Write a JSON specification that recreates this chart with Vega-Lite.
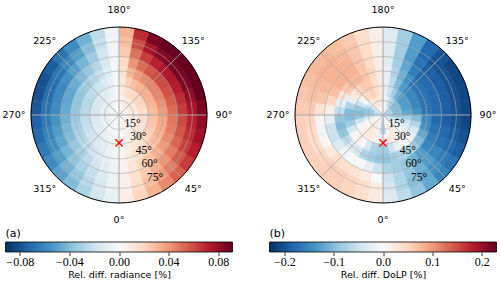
{
"$schema": "https://vega.github.io/schema/vega-lite/v6.json",
"background": "white",
"padding": {"left": 2.5, "top": 4, "right": 0, "bottom": 0},
"bounds": "flush",
"columns": 2,
"spacing": {"row": 37, "column": 37},
"config": {"view": {"stroke": null}, "font": "DejaVu Sans"},
"resolve": {"scale": {"color": "independent", "stroke": "independent", "theta": "independent", "radius": "independent", "x": "independent"}},
"datasets": {
"rad": [
{"a":5,"z":5,"v":0.0002},{"a":15,"z":5,"v":0.0005},{"a":25,"z":5,"v":0.0008},{"a":35,"z":5,"v":0.0011},{"a":45,"z":5,"v":0.0014},{"a":55,"z":5,"v":0.0016},{"a":65,"z":5,"v":0.0018},{"a":75,"z":5,"v":0.0019},{"a":85,"z":5,"v":0.002},{"a":95,"z":5,"v":0.0022},{"a":105,"z":5,"v":0.0023},{"a":115,"z":5,"v":0.0024},{"a":125,"z":5,"v":0.0025},{"a":135,"z":5,"v":0.0025},{"a":145,"z":5,"v":0.0024},{"a":155,"z":5,"v":0.0022},{"a":165,"z":5,"v":0.0017},{"a":175,"z":5,"v":0.0008},{"a":185,"z":5,"v":-0.0001},{"a":195,"z":5,"v":-0.0006},{"a":205,"z":5,"v":-0.0011},{"a":215,"z":5,"v":-0.0014},{"a":225,"z":5,"v":-0.0017},{"a":235,"z":5,"v":-0.0019},{"a":245,"z":5,"v":-0.002},{"a":255,"z":5,"v":-0.002},{"a":265,"z":5,"v":-0.0019},{"a":275,"z":5,"v":-0.0019},{"a":285,"z":5,"v":-0.0018},{"a":295,"z":5,"v":-0.0016},{"a":305,"z":5,"v":-0.0015},{"a":315,"z":5,"v":-0.0012},{"a":325,"z":5,"v":-0.001},{"a":335,"z":5,"v":-0.0007},{"a":345,"z":5,"v":-0.0004},{"a":355,"z":5,"v":-0.0002},
{"a":5,"z":15,"v":0.0006},{"a":15,"z":15,"v":0.002},{"a":25,"z":15,"v":0.0032},{"a":35,"z":15,"v":0.0044},{"a":45,"z":15,"v":0.0054},{"a":55,"z":15,"v":0.0064},{"a":65,"z":15,"v":0.0072},{"a":75,"z":15,"v":0.0078},{"a":85,"z":15,"v":0.0082},{"a":95,"z":15,"v":0.0086},{"a":105,"z":15,"v":0.0092},{"a":115,"z":15,"v":0.0098},{"a":125,"z":15,"v":0.01},{"a":135,"z":15,"v":0.01},{"a":145,"z":15,"v":0.0096},{"a":155,"z":15,"v":0.0086},{"a":165,"z":15,"v":0.0068},{"a":175,"z":15,"v":0.0032},{"a":185,"z":15,"v":-0.0004},{"a":195,"z":15,"v":-0.0024},{"a":205,"z":15,"v":-0.0044},{"a":215,"z":15,"v":-0.0058},{"a":225,"z":15,"v":-0.0068},{"a":235,"z":15,"v":-0.0076},{"a":245,"z":15,"v":-0.008},{"a":255,"z":15,"v":-0.008},{"a":265,"z":15,"v":-0.0078},{"a":275,"z":15,"v":-0.0074},{"a":285,"z":15,"v":-0.007},{"a":295,"z":15,"v":-0.0066},{"a":305,"z":15,"v":-0.0058},{"a":315,"z":15,"v":-0.005},{"a":325,"z":15,"v":-0.004},{"a":335,"z":15,"v":-0.0029},{"a":345,"z":15,"v":-0.0018},{"a":355,"z":15,"v":-0.0006},
{"a":5,"z":25,"v":0.0013},{"a":15,"z":25,"v":0.004},{"a":25,"z":25,"v":0.0064},{"a":35,"z":25,"v":0.0088},{"a":45,"z":25,"v":0.0109},{"a":55,"z":25,"v":0.0128},{"a":65,"z":25,"v":0.0144},{"a":75,"z":25,"v":0.0155},{"a":85,"z":25,"v":0.0163},{"a":95,"z":25,"v":0.0173},{"a":105,"z":25,"v":0.0184},{"a":115,"z":25,"v":0.0195},{"a":125,"z":25,"v":0.02},{"a":135,"z":25,"v":0.02},{"a":145,"z":25,"v":0.0192},{"a":155,"z":25,"v":0.0173},{"a":165,"z":25,"v":0.0136},{"a":175,"z":25,"v":0.0064},{"a":185,"z":25,"v":-0.0008},{"a":195,"z":25,"v":-0.0048},{"a":205,"z":25,"v":-0.0088},{"a":215,"z":25,"v":-0.0115},{"a":225,"z":25,"v":-0.0136},{"a":235,"z":25,"v":-0.0152},{"a":245,"z":25,"v":-0.016},{"a":255,"z":25,"v":-0.016},{"a":265,"z":25,"v":-0.0155},{"a":275,"z":25,"v":-0.0149},{"a":285,"z":25,"v":-0.0141},{"a":295,"z":25,"v":-0.0131},{"a":305,"z":25,"v":-0.0117},{"a":315,"z":25,"v":-0.0099},{"a":325,"z":25,"v":-0.008},{"a":335,"z":25,"v":-0.0058},{"a":345,"z":25,"v":-0.0035},{"a":355,"z":25,"v":-0.0013},
{"a":5,"z":35,"v":0.0021},{"a":15,"z":35,"v":0.0065},{"a":25,"z":35,"v":0.0104},{"a":35,"z":35,"v":0.0143},{"a":45,"z":35,"v":0.0177},{"a":55,"z":35,"v":0.0208},{"a":65,"z":35,"v":0.0234},{"a":75,"z":35,"v":0.0252},{"a":85,"z":35,"v":0.0265},{"a":95,"z":35,"v":0.0281},{"a":105,"z":35,"v":0.0299},{"a":115,"z":35,"v":0.0317},{"a":125,"z":35,"v":0.0325},{"a":135,"z":35,"v":0.0325},{"a":145,"z":35,"v":0.0312},{"a":155,"z":35,"v":0.0281},{"a":165,"z":35,"v":0.0221},{"a":175,"z":35,"v":0.0104},{"a":185,"z":35,"v":-0.0013},{"a":195,"z":35,"v":-0.0078},{"a":205,"z":35,"v":-0.0143},{"a":215,"z":35,"v":-0.0187},{"a":225,"z":35,"v":-0.0221},{"a":235,"z":35,"v":-0.0247},{"a":245,"z":35,"v":-0.026},{"a":255,"z":35,"v":-0.026},{"a":265,"z":35,"v":-0.0252},{"a":275,"z":35,"v":-0.0242},{"a":285,"z":35,"v":-0.0229},{"a":295,"z":35,"v":-0.0213},{"a":305,"z":35,"v":-0.019},{"a":315,"z":35,"v":-0.0161},{"a":325,"z":35,"v":-0.013},{"a":335,"z":35,"v":-0.0094},{"a":345,"z":35,"v":-0.0057},{"a":355,"z":35,"v":-0.0021},
{"a":5,"z":45,"v":0.0029},{"a":15,"z":45,"v":0.009},{"a":25,"z":45,"v":0.0144},{"a":35,"z":45,"v":0.0198},{"a":45,"z":45,"v":0.0245},{"a":55,"z":45,"v":0.0288},{"a":65,"z":45,"v":0.0324},{"a":75,"z":45,"v":0.0349},{"a":85,"z":45,"v":0.0367},{"a":95,"z":45,"v":0.0389},{"a":105,"z":45,"v":0.0414},{"a":115,"z":45,"v":0.0439},{"a":125,"z":45,"v":0.045},{"a":135,"z":45,"v":0.045},{"a":145,"z":45,"v":0.0432},{"a":155,"z":45,"v":0.0389},{"a":165,"z":45,"v":0.0306},{"a":175,"z":45,"v":0.0144},{"a":185,"z":45,"v":-0.0018},{"a":195,"z":45,"v":-0.0108},{"a":205,"z":45,"v":-0.0198},{"a":215,"z":45,"v":-0.0259},{"a":225,"z":45,"v":-0.0306},{"a":235,"z":45,"v":-0.0342},{"a":245,"z":45,"v":-0.036},{"a":255,"z":45,"v":-0.036},{"a":265,"z":45,"v":-0.0349},{"a":275,"z":45,"v":-0.0335},{"a":285,"z":45,"v":-0.0317},{"a":295,"z":45,"v":-0.0295},{"a":305,"z":45,"v":-0.0263},{"a":315,"z":45,"v":-0.0223},{"a":325,"z":45,"v":-0.018},{"a":335,"z":45,"v":-0.013},{"a":345,"z":45,"v":-0.0079},{"a":355,"z":45,"v":-0.0029},
{"a":5,"z":55,"v":0.0038},{"a":15,"z":55,"v":0.012},{"a":25,"z":55,"v":0.0192},{"a":35,"z":55,"v":0.0264},{"a":45,"z":55,"v":0.0326},{"a":55,"z":55,"v":0.0384},{"a":65,"z":55,"v":0.0432},{"a":75,"z":55,"v":0.0466},{"a":85,"z":55,"v":0.049},{"a":95,"z":55,"v":0.0518},{"a":105,"z":55,"v":0.0552},{"a":115,"z":55,"v":0.0586},{"a":125,"z":55,"v":0.06},{"a":135,"z":55,"v":0.06},{"a":145,"z":55,"v":0.0576},{"a":155,"z":55,"v":0.0518},{"a":165,"z":55,"v":0.0408},{"a":175,"z":55,"v":0.0192},{"a":185,"z":55,"v":-0.0024},{"a":195,"z":55,"v":-0.0144},{"a":205,"z":55,"v":-0.0264},{"a":215,"z":55,"v":-0.0346},{"a":225,"z":55,"v":-0.0408},{"a":235,"z":55,"v":-0.0456},{"a":245,"z":55,"v":-0.048},{"a":255,"z":55,"v":-0.048},{"a":265,"z":55,"v":-0.0466},{"a":275,"z":55,"v":-0.0446},{"a":285,"z":55,"v":-0.0422},{"a":295,"z":55,"v":-0.0394},{"a":305,"z":55,"v":-0.035},{"a":315,"z":55,"v":-0.0298},{"a":325,"z":55,"v":-0.024},{"a":335,"z":55,"v":-0.0173},{"a":345,"z":55,"v":-0.0106},{"a":355,"z":55,"v":-0.0038},
{"a":5,"z":65,"v":0.0047},{"a":15,"z":65,"v":0.0148},{"a":25,"z":65,"v":0.0236},{"a":35,"z":65,"v":0.0325},{"a":45,"z":65,"v":0.0401},{"a":55,"z":65,"v":0.0472},{"a":65,"z":65,"v":0.0531},{"a":75,"z":65,"v":0.0572},{"a":85,"z":65,"v":0.0602},{"a":95,"z":65,"v":0.0637},{"a":105,"z":65,"v":0.0679},{"a":115,"z":65,"v":0.072},{"a":125,"z":65,"v":0.0738},{"a":135,"z":65,"v":0.0738},{"a":145,"z":65,"v":0.0708},{"a":155,"z":65,"v":0.0637},{"a":165,"z":65,"v":0.0502},{"a":175,"z":65,"v":0.0236},{"a":185,"z":65,"v":-0.003},{"a":195,"z":65,"v":-0.0177},{"a":205,"z":65,"v":-0.0325},{"a":215,"z":65,"v":-0.0425},{"a":225,"z":65,"v":-0.0502},{"a":235,"z":65,"v":-0.0561},{"a":245,"z":65,"v":-0.059},{"a":255,"z":65,"v":-0.059},{"a":265,"z":65,"v":-0.0572},{"a":275,"z":65,"v":-0.0549},{"a":285,"z":65,"v":-0.0519},{"a":295,"z":65,"v":-0.0484},{"a":305,"z":65,"v":-0.0431},{"a":315,"z":65,"v":-0.0366},{"a":325,"z":65,"v":-0.0295},{"a":335,"z":65,"v":-0.0212},{"a":345,"z":65,"v":-0.013},{"a":355,"z":65,"v":-0.0047},
{"a":5,"z":75,"v":0.0056},{"a":15,"z":75,"v":0.0175},{"a":25,"z":75,"v":0.028},{"a":35,"z":75,"v":0.0385},{"a":45,"z":75,"v":0.0476},{"a":55,"z":75,"v":0.056},{"a":65,"z":75,"v":0.063},{"a":75,"z":75,"v":0.0679},{"a":85,"z":75,"v":0.0714},{"a":95,"z":75,"v":0.0756},{"a":105,"z":75,"v":0.0805},{"a":115,"z":75,"v":0.0854},{"a":125,"z":75,"v":0.0875},{"a":135,"z":75,"v":0.0875},{"a":145,"z":75,"v":0.084},{"a":155,"z":75,"v":0.0756},{"a":165,"z":75,"v":0.0595},{"a":175,"z":75,"v":0.028},{"a":185,"z":75,"v":-0.0035},{"a":195,"z":75,"v":-0.021},{"a":205,"z":75,"v":-0.0385},{"a":215,"z":75,"v":-0.0504},{"a":225,"z":75,"v":-0.0595},{"a":235,"z":75,"v":-0.0665},{"a":245,"z":75,"v":-0.07},{"a":255,"z":75,"v":-0.07},{"a":265,"z":75,"v":-0.0679},{"a":275,"z":75,"v":-0.0651},{"a":285,"z":75,"v":-0.0616},{"a":295,"z":75,"v":-0.0574},{"a":305,"z":75,"v":-0.0511},{"a":315,"z":75,"v":-0.0434},{"a":325,"z":75,"v":-0.035},{"a":335,"z":75,"v":-0.0252},{"a":345,"z":75,"v":-0.0154},{"a":355,"z":75,"v":-0.0056},
{"a":5,"z":85,"v":0.0064},{"a":15,"z":85,"v":0.02},{"a":25,"z":85,"v":0.032},{"a":35,"z":85,"v":0.044},{"a":45,"z":85,"v":0.0544},{"a":55,"z":85,"v":0.064},{"a":65,"z":85,"v":0.072},{"a":75,"z":85,"v":0.0776},{"a":85,"z":85,"v":0.0816},{"a":95,"z":85,"v":0.0864},{"a":105,"z":85,"v":0.092},{"a":115,"z":85,"v":0.0976},{"a":125,"z":85,"v":0.1},{"a":135,"z":85,"v":0.1},{"a":145,"z":85,"v":0.096},{"a":155,"z":85,"v":0.0864},{"a":165,"z":85,"v":0.068},{"a":175,"z":85,"v":0.032},{"a":185,"z":85,"v":-0.004},{"a":195,"z":85,"v":-0.024},{"a":205,"z":85,"v":-0.044},{"a":215,"z":85,"v":-0.0576},{"a":225,"z":85,"v":-0.068},{"a":235,"z":85,"v":-0.076},{"a":245,"z":85,"v":-0.08},{"a":255,"z":85,"v":-0.08},{"a":265,"z":85,"v":-0.0776},{"a":275,"z":85,"v":-0.0744},{"a":285,"z":85,"v":-0.0704},{"a":295,"z":85,"v":-0.0656},{"a":305,"z":85,"v":-0.0584},{"a":315,"z":85,"v":-0.0496},{"a":325,"z":85,"v":-0.04},{"a":335,"z":85,"v":-0.0288},{"a":345,"z":85,"v":-0.0176},{"a":355,"z":85,"v":-0.0064}
],
"dolp": [
{"a":5,"z":5,"v":-0.06},{"a":15,"z":5,"v":-0.02},{"a":25,"z":5,"v":0},{"a":35,"z":5,"v":-0.01},{"a":45,"z":5,"v":-0.02},{"a":55,"z":5,"v":-0.03},{"a":65,"z":5,"v":-0.05},{"a":75,"z":5,"v":-0.06},{"a":85,"z":5,"v":-0.07},{"a":95,"z":5,"v":-0.07},{"a":105,"z":5,"v":-0.07},{"a":115,"z":5,"v":-0.07},{"a":125,"z":5,"v":-0.07},{"a":135,"z":5,"v":-0.07},{"a":145,"z":5,"v":-0.05},{"a":155,"z":5,"v":-0.03},{"a":165,"z":5,"v":-0.015},{"a":175,"z":5,"v":0},{"a":185,"z":5,"v":0.01},{"a":195,"z":5,"v":0.015},{"a":205,"z":5,"v":0.01},{"a":215,"z":5,"v":0},{"a":225,"z":5,"v":-0.01},{"a":235,"z":5,"v":-0.03},{"a":245,"z":5,"v":-0.05},{"a":255,"z":5,"v":-0.06},{"a":265,"z":5,"v":-0.06},{"a":275,"z":5,"v":-0.05},{"a":285,"z":5,"v":-0.03},{"a":295,"z":5,"v":-0.01},{"a":305,"z":5,"v":0},{"a":315,"z":5,"v":0.01},{"a":325,"z":5,"v":0.01},{"a":335,"z":5,"v":0.01},{"a":345,"z":5,"v":-0.02},{"a":355,"z":5,"v":-0.06},
{"a":5,"z":15,"v":-0.07},{"a":15,"z":15,"v":0},{"a":25,"z":15,"v":0.02},{"a":35,"z":15,"v":0.01},{"a":45,"z":15,"v":0},{"a":55,"z":15,"v":-0.01},{"a":65,"z":15,"v":-0.03},{"a":75,"z":15,"v":-0.05},{"a":85,"z":15,"v":-0.08},{"a":95,"z":15,"v":-0.1},{"a":105,"z":15,"v":-0.1},{"a":115,"z":15,"v":-0.1},{"a":125,"z":15,"v":-0.1},{"a":135,"z":15,"v":-0.1},{"a":145,"z":15,"v":-0.08},{"a":155,"z":15,"v":-0.06},{"a":165,"z":15,"v":-0.03},{"a":175,"z":15,"v":-0.01},{"a":185,"z":15,"v":0.02},{"a":195,"z":15,"v":0.03},{"a":205,"z":15,"v":0.035},{"a":215,"z":15,"v":0.025},{"a":225,"z":15,"v":0},{"a":235,"z":15,"v":-0.04},{"a":245,"z":15,"v":-0.07},{"a":255,"z":15,"v":-0.09},{"a":265,"z":15,"v":-0.09},{"a":275,"z":15,"v":-0.06},{"a":285,"z":15,"v":-0.03},{"a":295,"z":15,"v":0},{"a":305,"z":15,"v":0.01},{"a":315,"z":15,"v":0.02},{"a":325,"z":15,"v":0.02},{"a":335,"z":15,"v":0.02},{"a":345,"z":15,"v":0.01},{"a":355,"z":15,"v":-0.06},
{"a":5,"z":25,"v":0.01},{"a":15,"z":25,"v":0.02},{"a":25,"z":25,"v":0.02},{"a":35,"z":25,"v":0.01},{"a":45,"z":25,"v":0},{"a":55,"z":25,"v":-0.01},{"a":65,"z":25,"v":-0.03},{"a":75,"z":25,"v":-0.05},{"a":85,"z":25,"v":-0.08},{"a":95,"z":25,"v":-0.12},{"a":105,"z":25,"v":-0.13},{"a":115,"z":25,"v":-0.13},{"a":125,"z":25,"v":-0.13},{"a":135,"z":25,"v":-0.13},{"a":145,"z":25,"v":-0.11},{"a":155,"z":25,"v":-0.08},{"a":165,"z":25,"v":-0.05},{"a":175,"z":25,"v":-0.02},{"a":185,"z":25,"v":0.02},{"a":195,"z":25,"v":0.04},{"a":205,"z":25,"v":0.055},{"a":215,"z":25,"v":0.05},{"a":225,"z":25,"v":0.035},{"a":235,"z":25,"v":0},{"a":245,"z":25,"v":-0.05},{"a":255,"z":25,"v":-0.09},{"a":265,"z":25,"v":-0.1},{"a":275,"z":25,"v":-0.09},{"a":285,"z":25,"v":-0.05},{"a":295,"z":25,"v":-0.01},{"a":305,"z":25,"v":0.01},{"a":315,"z":25,"v":0.02},{"a":325,"z":25,"v":0.02},{"a":335,"z":25,"v":0.02},{"a":345,"z":25,"v":0.01},{"a":355,"z":25,"v":0.01},
{"a":5,"z":35,"v":-0.08},{"a":15,"z":35,"v":-0.05},{"a":25,"z":35,"v":-0.02},{"a":35,"z":35,"v":0},{"a":45,"z":35,"v":0},{"a":55,"z":35,"v":-0.02},{"a":65,"z":35,"v":-0.04},{"a":75,"z":35,"v":-0.07},{"a":85,"z":35,"v":-0.1},{"a":95,"z":35,"v":-0.14},{"a":105,"z":35,"v":-0.15},{"a":115,"z":35,"v":-0.15},{"a":125,"z":35,"v":-0.15},{"a":135,"z":35,"v":-0.15},{"a":145,"z":35,"v":-0.13},{"a":155,"z":35,"v":-0.1},{"a":165,"z":35,"v":-0.06},{"a":175,"z":35,"v":-0.02},{"a":185,"z":35,"v":0.02},{"a":195,"z":35,"v":0.045},{"a":205,"z":35,"v":0.06},{"a":215,"z":35,"v":0.06},{"a":225,"z":35,"v":0.05},{"a":235,"z":35,"v":0.025},{"a":245,"z":35,"v":-0.02},{"a":255,"z":35,"v":-0.07},{"a":265,"z":35,"v":-0.1},{"a":275,"z":35,"v":-0.1},{"a":285,"z":35,"v":-0.08},{"a":295,"z":35,"v":-0.04},{"a":305,"z":35,"v":0},{"a":315,"z":35,"v":0.01},{"a":325,"z":35,"v":0},{"a":335,"z":35,"v":-0.04},{"a":345,"z":35,"v":-0.07},{"a":355,"z":35,"v":-0.08},
{"a":5,"z":45,"v":-0.09},{"a":15,"z":45,"v":-0.08},{"a":25,"z":45,"v":-0.07},{"a":35,"z":45,"v":-0.07},{"a":45,"z":45,"v":-0.08},{"a":55,"z":45,"v":-0.1},{"a":65,"z":45,"v":-0.12},{"a":75,"z":45,"v":-0.14},{"a":85,"z":45,"v":-0.15},{"a":95,"z":45,"v":-0.17},{"a":105,"z":45,"v":-0.17},{"a":115,"z":45,"v":-0.17},{"a":125,"z":45,"v":-0.17},{"a":135,"z":45,"v":-0.17},{"a":145,"z":45,"v":-0.14},{"a":155,"z":45,"v":-0.11},{"a":165,"z":45,"v":-0.07},{"a":175,"z":45,"v":-0.02},{"a":185,"z":45,"v":0.02},{"a":195,"z":45,"v":0.05},{"a":205,"z":45,"v":0.065},{"a":215,"z":45,"v":0.075},{"a":225,"z":45,"v":0.075},{"a":235,"z":45,"v":0.06},{"a":245,"z":45,"v":0.03},{"a":255,"z":45,"v":-0.02},{"a":265,"z":45,"v":-0.06},{"a":275,"z":45,"v":-0.09},{"a":285,"z":45,"v":-0.1},{"a":295,"z":45,"v":-0.09},{"a":305,"z":45,"v":-0.06},{"a":315,"z":45,"v":-0.03},{"a":325,"z":45,"v":-0.04},{"a":335,"z":45,"v":-0.07},{"a":345,"z":45,"v":-0.08},{"a":355,"z":45,"v":-0.09},
{"a":5,"z":55,"v":-0.07},{"a":15,"z":55,"v":-0.08},{"a":25,"z":55,"v":-0.09},{"a":35,"z":55,"v":-0.11},{"a":45,"z":55,"v":-0.13},{"a":55,"z":55,"v":-0.15},{"a":65,"z":55,"v":-0.16},{"a":75,"z":55,"v":-0.17},{"a":85,"z":55,"v":-0.18},{"a":95,"z":55,"v":-0.18},{"a":105,"z":55,"v":-0.18},{"a":115,"z":55,"v":-0.18},{"a":125,"z":55,"v":-0.18},{"a":135,"z":55,"v":-0.18},{"a":145,"z":55,"v":-0.16},{"a":155,"z":55,"v":-0.12},{"a":165,"z":55,"v":-0.08},{"a":175,"z":55,"v":-0.03},{"a":185,"z":55,"v":0.015},{"a":195,"z":55,"v":0.045},{"a":205,"z":55,"v":0.065},{"a":215,"z":55,"v":0.08},{"a":225,"z":55,"v":0.08},{"a":235,"z":55,"v":0.08},{"a":245,"z":55,"v":0.07},{"a":255,"z":55,"v":0.05},{"a":265,"z":55,"v":0.015},{"a":275,"z":55,"v":-0.02},{"a":285,"z":55,"v":-0.05},{"a":295,"z":55,"v":-0.05},{"a":305,"z":55,"v":-0.03},{"a":315,"z":55,"v":-0.01},{"a":325,"z":55,"v":0},{"a":335,"z":55,"v":0},{"a":345,"z":55,"v":-0.02},{"a":355,"z":55,"v":-0.05},
{"a":5,"z":65,"v":-0.05},{"a":15,"z":65,"v":-0.07},{"a":25,"z":65,"v":-0.09},{"a":35,"z":65,"v":-0.11},{"a":45,"z":65,"v":-0.13},{"a":55,"z":65,"v":-0.15},{"a":65,"z":65,"v":-0.17},{"a":75,"z":65,"v":-0.18},{"a":85,"z":65,"v":-0.19},{"a":95,"z":65,"v":-0.19},{"a":105,"z":65,"v":-0.19},{"a":115,"z":65,"v":-0.19},{"a":125,"z":65,"v":-0.19},{"a":135,"z":65,"v":-0.19},{"a":145,"z":65,"v":-0.17},{"a":155,"z":65,"v":-0.13},{"a":165,"z":65,"v":-0.08},{"a":175,"z":65,"v":-0.03},{"a":185,"z":65,"v":0.015},{"a":195,"z":65,"v":0.045},{"a":205,"z":65,"v":0.065},{"a":215,"z":65,"v":0.08},{"a":225,"z":65,"v":0.08},{"a":235,"z":65,"v":0.08},{"a":245,"z":65,"v":0.075},{"a":255,"z":65,"v":0.065},{"a":265,"z":65,"v":0.035},{"a":275,"z":65,"v":0.005},{"a":285,"z":65,"v":-0.01},{"a":295,"z":65,"v":0.005},{"a":305,"z":65,"v":0.025},{"a":315,"z":65,"v":0.04},{"a":325,"z":65,"v":0.04},{"a":335,"z":65,"v":0.035},{"a":345,"z":65,"v":0.02},{"a":355,"z":65,"v":0},
{"a":5,"z":75,"v":-0.04},{"a":15,"z":75,"v":-0.07},{"a":25,"z":75,"v":-0.1},{"a":35,"z":75,"v":-0.12},{"a":45,"z":75,"v":-0.14},{"a":55,"z":75,"v":-0.16},{"a":65,"z":75,"v":-0.18},{"a":75,"z":75,"v":-0.19},{"a":85,"z":75,"v":-0.2},{"a":95,"z":75,"v":-0.2},{"a":105,"z":75,"v":-0.2},{"a":115,"z":75,"v":-0.2},{"a":125,"z":75,"v":-0.2},{"a":135,"z":75,"v":-0.2},{"a":145,"z":75,"v":-0.18},{"a":155,"z":75,"v":-0.13},{"a":165,"z":75,"v":-0.08},{"a":175,"z":75,"v":-0.03},{"a":185,"z":75,"v":0.015},{"a":195,"z":75,"v":0.045},{"a":205,"z":75,"v":0.065},{"a":215,"z":75,"v":0.075},{"a":225,"z":75,"v":0.08},{"a":235,"z":75,"v":0.08},{"a":245,"z":75,"v":0.075},{"a":255,"z":75,"v":0.07},{"a":265,"z":75,"v":0.06},{"a":275,"z":75,"v":0.05},{"a":285,"z":75,"v":0.045},{"a":295,"z":75,"v":0.04},{"a":305,"z":75,"v":0.05},{"a":315,"z":75,"v":0.055},{"a":325,"z":75,"v":0.055},{"a":335,"z":75,"v":0.05},{"a":345,"z":75,"v":0.04},{"a":355,"z":75,"v":0.02},
{"a":5,"z":85,"v":-0.03},{"a":15,"z":85,"v":-0.06},{"a":25,"z":85,"v":-0.09},{"a":35,"z":85,"v":-0.12},{"a":45,"z":85,"v":-0.15},{"a":55,"z":85,"v":-0.17},{"a":65,"z":85,"v":-0.19},{"a":75,"z":85,"v":-0.2},{"a":85,"z":85,"v":-0.21},{"a":95,"z":85,"v":-0.21},{"a":105,"z":85,"v":-0.21},{"a":115,"z":85,"v":-0.21},{"a":125,"z":85,"v":-0.21},{"a":135,"z":85,"v":-0.2},{"a":145,"z":85,"v":-0.18},{"a":155,"z":85,"v":-0.13},{"a":165,"z":85,"v":-0.08},{"a":175,"z":85,"v":-0.03},{"a":185,"z":85,"v":0.015},{"a":195,"z":85,"v":0.04},{"a":205,"z":85,"v":0.06},{"a":215,"z":85,"v":0.07},{"a":225,"z":85,"v":0.075},{"a":235,"z":85,"v":0.075},{"a":245,"z":85,"v":0.07},{"a":255,"z":85,"v":0.065},{"a":265,"z":85,"v":0.06},{"a":275,"z":85,"v":0.055},{"a":285,"z":85,"v":0.055},{"a":295,"z":85,"v":0.055},{"a":305,"z":85,"v":0.055},{"a":315,"z":85,"v":0.055},{"a":325,"z":85,"v":0.055},{"a":335,"z":85,"v":0.05},{"a":345,"z":85,"v":0.04},{"a":355,"z":85,"v":0.02}
],
"rings": [{"r":15},{"r":30},{"r":45},{"r":60},{"r":75}],
"spokes": [{"g":0},{"g":45},{"g":90},{"g":135},{"g":180},{"g":225},{"g":270},{"g":315}],
"azlab": [{"g":0,"t":"0°"},{"g":45,"t":"45°"},{"g":90,"t":"90°"},{"g":135,"t":"135°"},{"g":180,"t":"180°"},{"g":225,"t":"225°"},{"g":270,"t":"270°"},{"g":315,"t":"315°"}],
"zlab": [{"r":15,"t":"15°"},{"r":30,"t":"30°"},{"r":45,"t":"45°"},{"r":60,"t":"60°"},{"r":75,"t":"75°"}],
"sun": [{"a":0,"z":30}]
},
"concat": [
{
"width": 227, "height": 180,
"layer": [
{
"data": {"name": "rad"},
"transform": [{"calculate": "datum.a-5", "as": "a0"}, {"calculate": "datum.a+5", "as": "a1"}, {"calculate": "datum.z-5", "as": "z0"}, {"calculate": "datum.z+5", "as": "z1"}],
"mark": {"type": "arc", "strokeWidth": 0.6},
"encoding": {
"theta": {"field": "a0", "type": "quantitative", "stack": null, "scale": {"domain": [0, 360], "range": [3.14159265, -3.14159265]}},
"theta2": {"field": "a1"},
"radius": {"field": "z1", "type": "quantitative", "stack": null, "scale": {"type": "linear", "domain": [0, 90], "range": [0, 88], "zero": true, "nice": false}},
"radius2": {"field": "z0"},
"color": {"field": "v", "type": "quantitative", "scale": {"type": "linear", "domain": [-0.0915, -0.0732, -0.0549, -0.0366, -0.0183, 0, 0.0183, 0.0366, 0.0549, 0.0732, 0.0915], "range": ["#053061", "#2166ac", "#4393c3", "#92c5de", "#d1e5f0", "#f7f7f7", "#fddbc7", "#f4a582", "#d6604d", "#b2182b", "#67001f"], "interpolate": "rgb", "clamp": true}, "legend": null},
"stroke": {"field": "v", "type": "quantitative", "scale": {"type": "linear", "domain": [-0.0915, -0.0732, -0.0549, -0.0366, -0.0183, 0, 0.0183, 0.0366, 0.0549, 0.0732, 0.0915], "range": ["#053061", "#2166ac", "#4393c3", "#92c5de", "#d1e5f0", "#f7f7f7", "#fddbc7", "#f4a582", "#d6604d", "#b2182b", "#67001f"], "interpolate": "rgb", "clamp": true}, "legend": null}
}
},
{
"data": {"name": "rings"},
"mark": {"type": "arc", "theta": 0, "theta2": 6.2832, "fillOpacity": 0, "stroke": "#aaaaaa", "strokeWidth": 0.6},
"encoding": {"radius": {"field": "r", "type": "quantitative", "stack": null, "scale": {"type": "linear", "domain": [0, 90], "range": [0, 88], "zero": true, "nice": false}}}
},
{
"data": {"name": "spokes"},
"mark": {"type": "arc", "fillOpacity": 0, "stroke": "#aaaaaa", "strokeWidth": 0.6},
"encoding": {
"theta": {"field": "g", "type": "quantitative", "stack": null, "scale": {"domain": [0, 360], "range": [3.14159265, -3.14159265]}},
"theta2": {"field": "g"},
"radius": {"datum": 90, "type": "quantitative", "scale": {"type": "linear", "domain": [0, 90], "range": [0, 88], "zero": true, "nice": false}}
}
},
{
"data": {"values": [{"r": 90}]},
"mark": {"type": "arc", "theta": 0, "theta2": 6.2832, "fillOpacity": 0, "stroke": "black", "strokeWidth": 1},
"encoding": {"radius": {"field": "r", "type": "quantitative", "stack": null, "scale": {"type": "linear", "domain": [0, 90], "range": [0, 88], "zero": true, "nice": false}}}
},
{
"data": {"name": "azlab"},
"mark": {"type": "text", "font": "DejaVu Sans", "fontSize": 9.5, "color": "black", "align": "center", "baseline": "middle"},
"encoding": {
"theta": {"field": "g", "type": "quantitative", "stack": null, "scale": {"domain": [0, 360], "range": [3.14159265, -3.14159265]}},
"radius": {"datum": 107.4, "type": "quantitative", "scale": {"type": "linear", "domain": [0, 90], "range": [0, 88], "zero": true, "nice": false}},
"text": {"field": "t"}
}
},
{
"data": {"name": "zlab"},
"mark": {"type": "text", "font": "Liberation Serif", "fontSize": 11.5, "color": "black", "align": "left", "baseline": "bottom"},
"encoding": {
"theta": {"datum": 22.5, "type": "quantitative", "scale": {"domain": [0, 360], "range": [3.14159265, -3.14159265]}},
"radius": {"field": "r", "type": "quantitative", "stack": null, "scale": {"type": "linear", "domain": [0, 90], "range": [0, 88], "zero": true, "nice": false}},
"text": {"field": "t"}
}
},
{
"data": {"name": "sun"},
"mark": {"type": "text", "font": "DejaVu Sans", "fontSize": 14, "fontWeight": "bold", "color": "#ff0000", "align": "center", "baseline": "middle", "text": "✕"},
"encoding": {
"theta": {"field": "a", "type": "quantitative", "stack": null, "scale": {"domain": [0, 360], "range": [3.14159265, -3.14159265]}},
"radius": {"field": "z", "type": "quantitative", "stack": null, "scale": {"type": "linear", "domain": [0, 90], "range": [0, 88], "zero": true, "nice": false}}
}
}
]
},
{
"width": 227, "height": 180,
"layer": [
{
"data": {"name": "dolp"},
"transform": [{"calculate": "datum.a-5", "as": "a0"}, {"calculate": "datum.a+5", "as": "a1"}, {"calculate": "datum.z-5", "as": "z0"}, {"calculate": "datum.z+5", "as": "z1"}],
"mark": {"type": "arc", "strokeWidth": 0.6},
"encoding": {
"theta": {"field": "a0", "type": "quantitative", "stack": null, "scale": {"domain": [0, 360], "range": [3.14159265, -3.14159265]}},
"theta2": {"field": "a1"},
"radius": {"field": "z1", "type": "quantitative", "stack": null, "scale": {"type": "linear", "domain": [0, 90], "range": [0, 88], "zero": true, "nice": false}},
"radius2": {"field": "z0"},
"color": {"field": "v", "type": "quantitative", "scale": {"type": "linear", "domain": [-0.23, -0.184, -0.138, -0.092, -0.046, 0, 0.046, 0.092, 0.138, 0.184, 0.23], "range": ["#053061", "#2166ac", "#4393c3", "#92c5de", "#d1e5f0", "#f7f7f7", "#fddbc7", "#f4a582", "#d6604d", "#b2182b", "#67001f"], "interpolate": "rgb", "clamp": true}, "legend": null},
"stroke": {"field": "v", "type": "quantitative", "scale": {"type": "linear", "domain": [-0.23, -0.184, -0.138, -0.092, -0.046, 0, 0.046, 0.092, 0.138, 0.184, 0.23], "range": ["#053061", "#2166ac", "#4393c3", "#92c5de", "#d1e5f0", "#f7f7f7", "#fddbc7", "#f4a582", "#d6604d", "#b2182b", "#67001f"], "interpolate": "rgb", "clamp": true}, "legend": null}
}
},
{
"data": {"name": "rings"},
"mark": {"type": "arc", "theta": 0, "theta2": 6.2832, "fillOpacity": 0, "stroke": "#aaaaaa", "strokeWidth": 0.6},
"encoding": {"radius": {"field": "r", "type": "quantitative", "stack": null, "scale": {"type": "linear", "domain": [0, 90], "range": [0, 88], "zero": true, "nice": false}}}
},
{
"data": {"name": "spokes"},
"mark": {"type": "arc", "fillOpacity": 0, "stroke": "#aaaaaa", "strokeWidth": 0.6},
"encoding": {
"theta": {"field": "g", "type": "quantitative", "stack": null, "scale": {"domain": [0, 360], "range": [3.14159265, -3.14159265]}},
"theta2": {"field": "g"},
"radius": {"datum": 90, "type": "quantitative", "scale": {"type": "linear", "domain": [0, 90], "range": [0, 88], "zero": true, "nice": false}}
}
},
{
"data": {"values": [{"r": 90}]},
"mark": {"type": "arc", "theta": 0, "theta2": 6.2832, "fillOpacity": 0, "stroke": "black", "strokeWidth": 1},
"encoding": {"radius": {"field": "r", "type": "quantitative", "stack": null, "scale": {"type": "linear", "domain": [0, 90], "range": [0, 88], "zero": true, "nice": false}}}
},
{
"data": {"name": "azlab"},
"mark": {"type": "text", "font": "DejaVu Sans", "fontSize": 9.5, "color": "black", "align": "center", "baseline": "middle"},
"encoding": {
"theta": {"field": "g", "type": "quantitative", "stack": null, "scale": {"domain": [0, 360], "range": [3.14159265, -3.14159265]}},
"radius": {"datum": 107.4, "type": "quantitative", "scale": {"type": "linear", "domain": [0, 90], "range": [0, 88], "zero": true, "nice": false}},
"text": {"field": "t"}
}
},
{
"data": {"name": "zlab"},
"mark": {"type": "text", "font": "Liberation Serif", "fontSize": 11.5, "color": "black", "align": "left", "baseline": "bottom"},
"encoding": {
"theta": {"datum": 22.5, "type": "quantitative", "scale": {"domain": [0, 360], "range": [3.14159265, -3.14159265]}},
"radius": {"field": "r", "type": "quantitative", "stack": null, "scale": {"type": "linear", "domain": [0, 90], "range": [0, 88], "zero": true, "nice": false}},
"text": {"field": "t"}
}
},
{
"data": {"name": "sun"},
"mark": {"type": "text", "font": "DejaVu Sans", "fontSize": 14, "fontWeight": "bold", "color": "#ff0000", "align": "center", "baseline": "middle", "text": "✕"},
"encoding": {
"theta": {"field": "a", "type": "quantitative", "stack": null, "scale": {"domain": [0, 360], "range": [3.14159265, -3.14159265]}},
"radius": {"field": "z", "type": "quantitative", "stack": null, "scale": {"type": "linear", "domain": [0, 90], "range": [0, 88], "zero": true, "nice": false}}
}
}
]
},
{
"width": 227, "height": 10,
"title": {"text": "(a)", "anchor": "start", "frame": "group", "font": "DejaVu Sans", "fontSize": 11, "fontWeight": "normal", "color": "black", "offset": 3},
"data": {"values": [{"lo": -0.0915, "hi": 0.0915}]},
"mark": {"type": "rect", "stroke": "black", "strokeWidth": 0.8, "fill": {"gradient": "linear", "x1": 0, "y1": 0, "x2": 1, "y2": 0, "stops": [{"offset": 0, "color": "#053061"}, {"offset": 0.1, "color": "#2166ac"}, {"offset": 0.2, "color": "#4393c3"}, {"offset": 0.3, "color": "#92c5de"}, {"offset": 0.4, "color": "#d1e5f0"}, {"offset": 0.5, "color": "#f7f7f7"}, {"offset": 0.6, "color": "#fddbc7"}, {"offset": 0.7, "color": "#f4a582"}, {"offset": 0.8, "color": "#d6604d"}, {"offset": 0.9, "color": "#b2182b"}, {"offset": 1, "color": "#67001f"}]}},
"encoding": {
"x": {"field": "lo", "type": "quantitative", "scale": {"domain": [-0.0915, 0.0915], "nice": false, "zero": false},
"axis": {"orient": "bottom", "values": [-0.08, -0.04, 0, 0.04, 0.08], "format": ".2f", "domain": false, "grid": false, "ticks": true, "tickSize": 3.5, "tickColor": "black", "tickWidth": 0.8, "labelFont": "Liberation Serif", "labelFontSize": 12, "labelColor": "black", "labelPadding": 1, "labelFlush": false, "title": "Rel. diff. radiance [%]", "titleFont": "DejaVu Sans", "titleFontSize": 9.5, "titleFontWeight": "normal", "titleColor": "black", "titlePadding": 2}},
"x2": {"field": "hi"}
}
},
{
"width": 227, "height": 10,
"title": {"text": "(b)", "anchor": "start", "frame": "group", "font": "DejaVu Sans", "fontSize": 11, "fontWeight": "normal", "color": "black", "offset": 3},
"data": {"values": [{"lo": -0.23, "hi": 0.23}]},
"mark": {"type": "rect", "stroke": "black", "strokeWidth": 0.8, "fill": {"gradient": "linear", "x1": 0, "y1": 0, "x2": 1, "y2": 0, "stops": [{"offset": 0, "color": "#053061"}, {"offset": 0.1, "color": "#2166ac"}, {"offset": 0.2, "color": "#4393c3"}, {"offset": 0.3, "color": "#92c5de"}, {"offset": 0.4, "color": "#d1e5f0"}, {"offset": 0.5, "color": "#f7f7f7"}, {"offset": 0.6, "color": "#fddbc7"}, {"offset": 0.7, "color": "#f4a582"}, {"offset": 0.8, "color": "#d6604d"}, {"offset": 0.9, "color": "#b2182b"}, {"offset": 1, "color": "#67001f"}]}},
"encoding": {
"x": {"field": "lo", "type": "quantitative", "scale": {"domain": [-0.23, 0.23], "nice": false, "zero": false},
"axis": {"orient": "bottom", "values": [-0.2, -0.1, 0, 0.1, 0.2], "format": ".1f", "domain": false, "grid": false, "ticks": true, "tickSize": 3.5, "tickColor": "black", "tickWidth": 0.8, "labelFont": "Liberation Serif", "labelFontSize": 12, "labelColor": "black", "labelPadding": 1, "labelFlush": false, "title": "Rel. diff. DoLP [%]", "titleFont": "DejaVu Sans", "titleFontSize": 9.5, "titleFontWeight": "normal", "titleColor": "black", "titlePadding": 2}},
"x2": {"field": "hi"}
}
}
]
}
